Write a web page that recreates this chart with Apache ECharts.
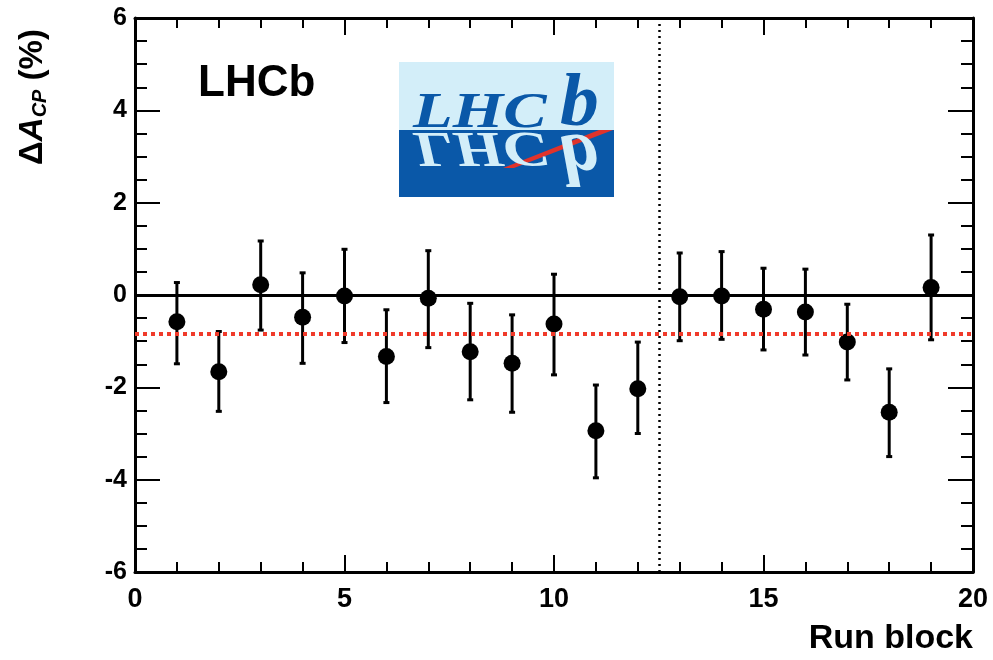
<!DOCTYPE html>
<html>
<head>
<meta charset="utf-8">
<script src="https://cdn.jsdelivr.net/npm/echarts@6/dist/echarts.min.js"></script>
<style>
  html, body { margin: 0; padding: 0; background: #fff; }
  #chart { width: 993px; height: 660px; }
</style>
</head>
<body>
<div id="chart"></div>
<script>
// data
var runBlock = [1, 2, 3, 4, 5, 6, 7, 8, 9, 10, 11, 12, 13, 14, 15, 16, 17, 18, 19];
var deltaACP = [-0.58, -1.66, 0.22, -0.48, -0.02, -1.33, -0.07, -1.23, -1.48, -0.63, -2.94, -2.03, -0.04, -0.02, -0.31, -0.37, -1.02, -2.54, 0.16];
var errUpper = [0.27, -0.79, 1.17, 0.48, 0.99, -0.32, 0.96, -0.18, -0.43, 0.45, -1.95, -1.02, 0.91, 0.94, 0.58, 0.56, -0.20, -1.60, 1.30];
var errLower = [-1.49, -2.52, -0.76, -1.48, -1.03, -2.33, -1.14, -2.27, -2.54, -1.73, -3.96, -3.00, -0.99, -0.96, -1.19, -1.30, -1.84, -3.50, -0.97];
var zeroLevel = 0;
var meanLevel = -0.83;
var splitBlock = 12.5;
var xTicks = [0, 5, 10, 15, 20];
var yTicks = [-6, -4, -2, 0, 2, 4, 6];

var font = '"Liberation Sans", Arial, sans-serif';
var serif = '"Liberation Serif", serif';

var points = runBlock.map(function (x, i) { return [x, deltaACP[i]]; });
var bars = runBlock.map(function (x, i) { return [x, errLower[i], errUpper[i]]; });

var myChart = echarts.init(document.getElementById('chart'));

function axisX(pos, showLabel) {
    return {
        type: 'value',
        position: pos,
        min: xTicks[0],
        max: xTicks[xTicks.length - 1],
        interval: 5,
        axisLine: { show: true, onZero: false, lineStyle: { color: '#000', width: 3 } },
        axisTick: { show: true, inside: true, length: 17, lineStyle: { color: '#000', width: 2 } },
        minorTick: { show: true, splitNumber: 5, length: 10, lineStyle: { color: '#000', width: 2 } },
        splitLine: { show: false },
        axisLabel: {
            show: showLabel, margin: 14, color: '#000',
            fontFamily: font, fontWeight: 'bold', fontSize: 27
        }
    };
}

function axisY(pos, showLabel) {
    return {
        type: 'value',
        position: pos,
        min: yTicks[0],
        max: yTicks[yTicks.length - 1],
        interval: 2,
        axisLine: { show: true, onZero: false, lineStyle: { color: '#000', width: 3 } },
        axisTick: { show: true, inside: true, length: 25, lineStyle: { color: '#000', width: 2 } },
        minorTick: { show: true, splitNumber: 4, length: 12, lineStyle: { color: '#000', width: 2 } },
        splitLine: { show: false },
        axisLabel: {
            show: showLabel, margin: 8, color: '#000',
            fontFamily: font, fontWeight: 'bold', fontSize: 25
        }
    };
}

var xMain = axisX('bottom', true);
xMain.name = 'Run block';
xMain.nameLocation = 'end';
xMain.nameGap = 0;
xMain.nameTextStyle = {
    color: '#000', fontFamily: font, fontWeight: 'bold', fontSize: 34,
    align: 'right', verticalAlign: 'top', padding: [50, 0, 0, 0]
};

// logo word, used twice (normal + mirrored)
function logoWord(color) {
    return [
        { type: 'text', x: 0, y: 9, scaleX: 1.3, style: { text: 'LHC', fontFamily: serif, fontStyle: 'italic', fontWeight: 'bold', fontSize: 50, fill: color, verticalAlign: 'bottom' } },
        { type: 'text', x: 147, y: 13, scaleX: 1.05, style: { text: 'b', fontFamily: serif, fontStyle: 'italic', fontWeight: 'bold', fontSize: 74, fill: color, verticalAlign: 'bottom' } }
    ];
}

var option = {
    backgroundColor: '#fff',
    animation: false,
    grid: { left: 135, right: 20, top: 18, bottom: 88 },
    xAxis: [xMain, axisX('top', false)],
    yAxis: [axisY('left', true), axisY('right', false)],
    graphic: [
        // y axis title
        {
            type: 'text',
            x: 33, y: 97,
            rotation: Math.PI / 2,
            style: {
                text: '{d|Δ}{a|A}{s|CP}{d| (%)}',
                align: 'center', verticalAlign: 'middle',
                rich: {
                    d: { fontFamily: font, fontWeight: 'bold', fontSize: 33, fill: '#000' },
                    a: { fontFamily: font, fontWeight: 'bold', fontStyle: 'italic', fontSize: 33, fill: '#000' },
                    s: { fontFamily: font, fontWeight: 'bold', fontStyle: 'italic', fontSize: 20, fill: '#000', verticalAlign: 'bottom', padding: [14, 0, 0, 0] }
                }
            }
        },
        {
            type: 'text',
            left: 198, top: 62,
            style: { text: 'LHCb', fontFamily: font, fontWeight: 'bold', fontSize: 44, fill: '#000' }
        },
        // logo
        {
            type: 'group',
            x: 399, y: 62,
            children: [
                { type: 'rect', shape: { x: 0, y: 0, width: 215, height: 68 }, style: { fill: '#d3eef9' } },
                { type: 'rect', shape: { x: 0, y: 68, width: 215, height: 67 }, style: { fill: '#0a58a8' } },
                { type: 'polygon', shape: { points: [[104, 106], [115, 106], [214, 68], [200, 68]] }, style: { fill: '#e0332b' } },
                { type: 'group', x: 14, y: 68, scaleY: -1, children: logoWord('#d3eef9') },
                { type: 'group', x: 14, y: 68, children: logoWord('#0a58a8') }
            ]
        }
    ],
    series: [
        {
            // reference lines
            type: 'line',
            data: [],
            z: 1,
            markLine: {
                silent: true,
                symbol: 'none',
                label: { show: false },
                data: [
                    { yAxis: zeroLevel, lineStyle: { color: '#000', width: 3, type: 'solid' } },
                    { yAxis: meanLevel, lineStyle: { color: '#f03a2a', width: 4, type: [4, 4] } },
                    { xAxis: splitBlock, lineStyle: { color: '#000', width: 2.5, type: [2, 4] } }
                ]
            }
        },
        {
            type: 'custom',
            z: 2,
            data: bars,
            renderItem: function (params, api) {
                var x = api.value(0);
                var top = api.coord([x, api.value(2)]);
                var bot = api.coord([x, api.value(1)]);
                var s = { stroke: '#000', lineWidth: 3 };
                return {
                    type: 'group',
                    children: [
                        { type: 'line', shape: { x1: top[0], y1: top[1], x2: bot[0], y2: bot[1] }, style: s },
                        { type: 'line', shape: { x1: top[0] - 3, y1: top[1], x2: top[0] + 3, y2: top[1] }, style: s },
                        { type: 'line', shape: { x1: bot[0] - 3, y1: bot[1], x2: bot[0] + 3, y2: bot[1] }, style: s }
                    ]
                };
            }
        },
        {
            type: 'scatter',
            z: 3,
            symbol: 'circle',
            symbolSize: 17,
            itemStyle: { color: '#000', opacity: 1 },
            data: points
        }
    ]
};
myChart.setOption(option);
</script>
</body>
</html>
